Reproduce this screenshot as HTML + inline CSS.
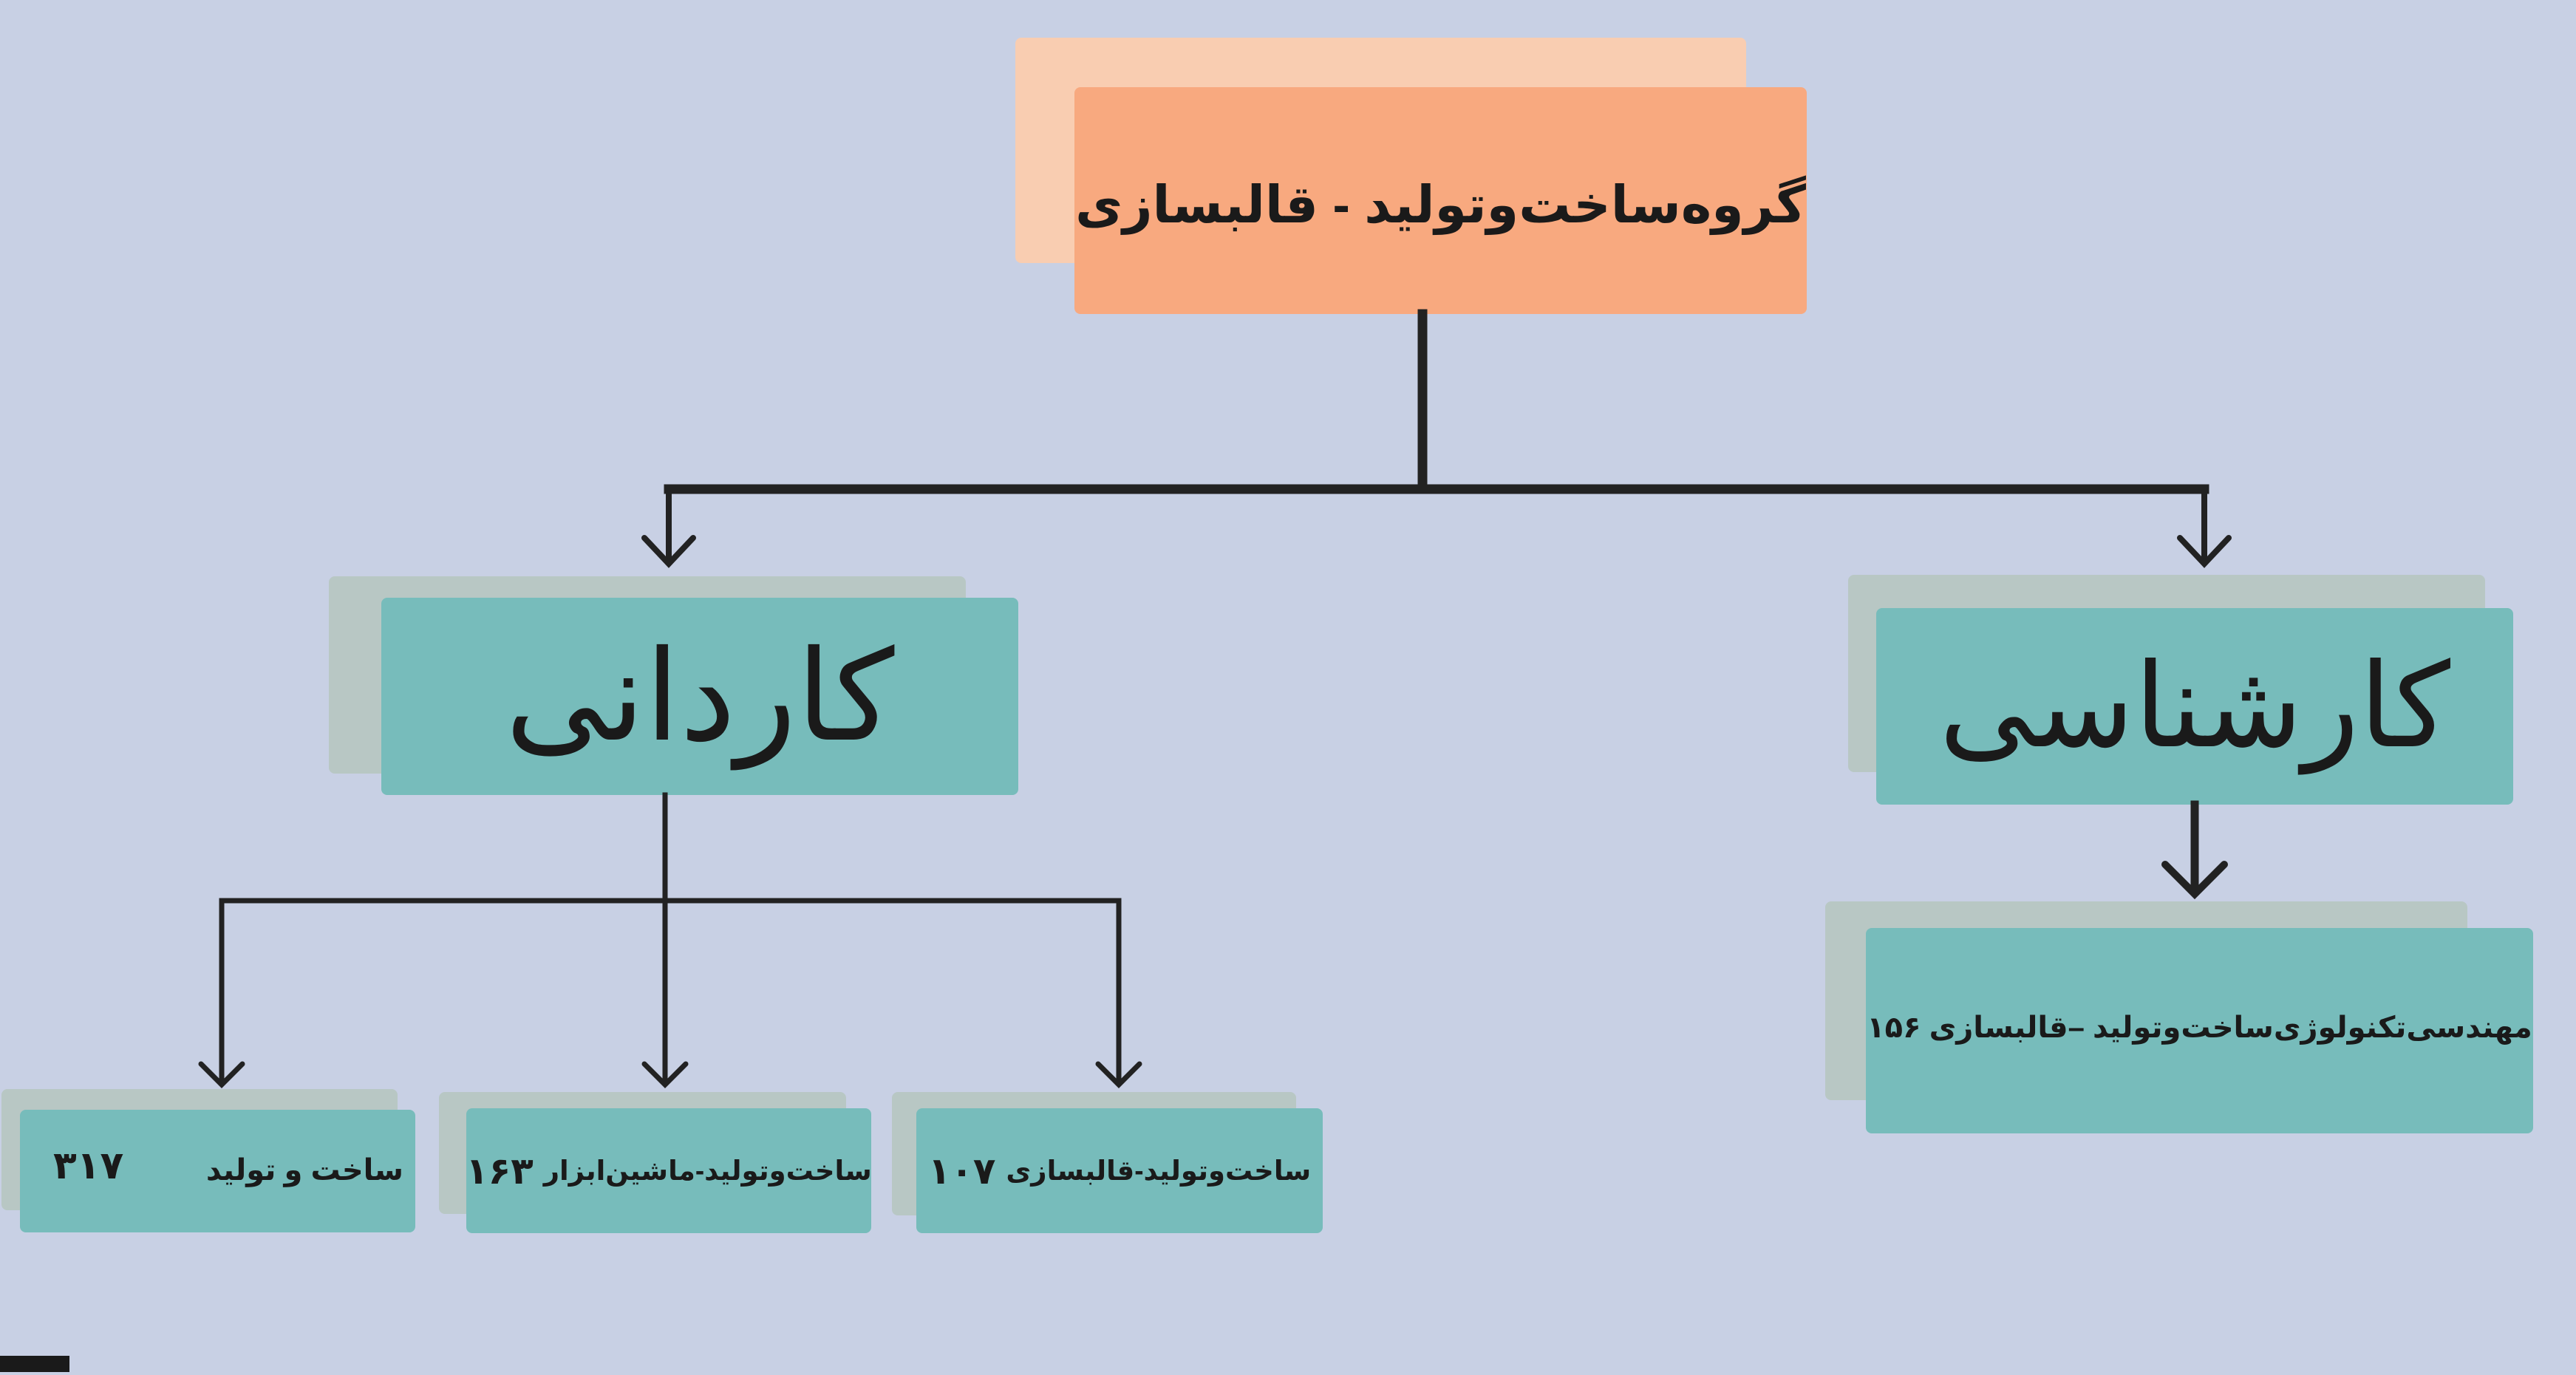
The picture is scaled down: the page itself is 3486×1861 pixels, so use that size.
<!DOCTYPE html>
<html><head><meta charset="utf-8"><style>
body{margin:0;width:3486px;height:1861px;background:#c8d0e4;position:relative;overflow:hidden;font-family:"Liberation Sans","DejaVu Sans","Noto Sans CJK SC",sans-serif;}
.b{position:absolute;border-radius:8px;}
.bk{background:#b8c7c4;}
.fr{background:#77bcbb;display:flex;align-items:center;justify-content:center;direction:rtl;color:#1a1a1a;font-weight:bold;white-space:nowrap;}
.t{position:absolute;direction:rtl;white-space:nowrap;font-weight:bold;color:#1a1a1a;}
svg{position:absolute;left:0;top:0;}
</style></head><body>
<div class="b" style="left:1374px;top:51px;width:989px;height:305px;background:#f9cdb1"></div>
<div class="b" style="left:1454px;top:118px;width:991px;height:307px;background:#f8a97f;display:flex;align-items:center;justify-content:center;direction:rtl;font-weight:bold;font-size:70px;color:#1a1a1a;white-space:nowrap;padding-top:10px;box-sizing:border-box">گروه‌ساخت‌وتولید - قالبسازی</div>

<div class="b bk" style="left:445px;top:780px;width:862px;height:267px"></div>
<div class="b fr" style="left:516px;top:809px;width:862px;height:267px;font-weight:normal;font-size:170px">کاردانی</div>

<div class="b bk" style="left:2501px;top:778px;width:862px;height:267px"></div>
<div class="b fr" style="left:2539px;top:823px;width:862px;height:266px;font-weight:normal;font-size:158px">کارشناسی</div>

<div class="b bk" style="left:2470px;top:1220px;width:869px;height:269px"></div>
<div class="b fr" style="left:2525px;top:1256px;width:903px;height:278px;font-size:40px;padding-bottom:8px;box-sizing:border-box">مهندسی‌تکنولوژی‌ساخت‌وتولید –قالبسازی ۱۵۶</div>

<div class="b bk" style="left:2px;top:1474px;width:536px;height:164px"></div>
<div class="b" style="left:27px;top:1502px;width:535px;height:166px;background:#77bcbb"></div>
<div class="t" style="right:2940px;top:1561px;font-size:40px">ساخت و تولید</div>
<div class="t" style="left:72px;top:1548px;font-size:52px">۳۱۷</div>

<div class="b bk" style="left:594px;top:1478px;width:551px;height:165px"></div>
<div class="b fr" style="left:631px;top:1500px;width:548px;height:169px;font-size:37px">ساخت‌وتولید-ماشین‌ابزار <span style="font-size:50px">&nbsp;۱۶۳</span></div>

<div class="b bk" style="left:1207px;top:1478px;width:547px;height:167px"></div>
<div class="b fr" style="left:1240px;top:1500px;width:550px;height:169px;font-size:37px">ساخت‌وتولید-قالبسازی <span style="font-size:50px">&nbsp;۱۰۷</span></div>

<svg width="3486" height="1861" fill="none" stroke="#222" stroke-linecap="square">
<path d="M1925 425V662M905 662H2983" stroke-width="13"/>
<path d="M905 662V760M2983 662V760" stroke-width="8"/>
<path d="M872 728L905 763L938 728M2950 728L2983 763L3016 728" stroke-width="8" stroke-linecap="round"/>
<path d="M2970 1089V1205" stroke-width="11"/>
<path d="M2930 1170L2970 1210L3010 1170" stroke-width="10" stroke-linecap="round"/>
<path d="M900 1076V1464M300 1219H1514M300 1219V1464M1514 1219V1464" stroke-width="7"/>
<path d="M272 1440L300 1468L328 1440M872 1440L900 1468L928 1440M1486 1440L1514 1468L1542 1440" stroke-width="7" stroke-linecap="round"/>
</svg>
<div style="position:absolute;left:0;top:1835px;width:94px;height:22px;background:#1a1a1a"></div>
</body></html>
